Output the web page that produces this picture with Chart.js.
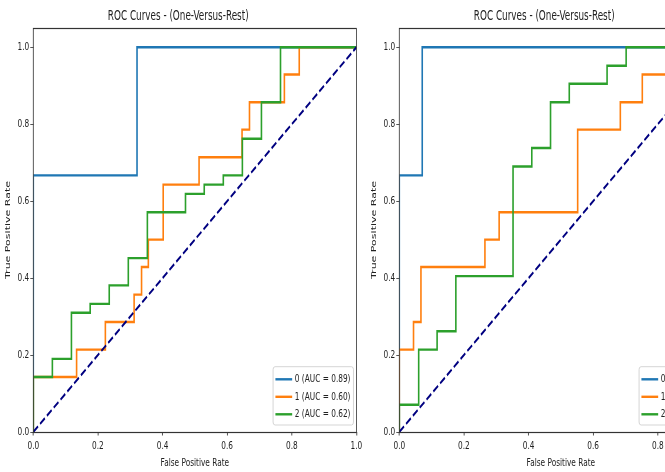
<!DOCTYPE html>
<html>
<head>
<meta charset="utf-8">
<title>ROC Curves - (One-Versus-Rest)</title>
<script src="https://cdn.jsdelivr.net/npm/chart.js@4.4.1/dist/chart.umd.min.js"></script>
<style>
  html, body { margin: 0; padding: 0; background: #fff; overflow: hidden; width: 665px; height: 472px; }
  #fig { position: absolute; left: 0; top: 0; width: 760px; height: 472px; }
  #fig canvas { position: absolute; top: 0; }
</style>
</head>
<body>
<div id="fig">
  <canvas id="rocA" width="548" height="472" style="left:0px"></canvas>
  <canvas id="rocB" width="548" height="472" style="left:366px"></canvas>
</div>
<script>
// tick values
const xTicks = [0, 0.2, 0.4, 0.6, 0.8, 1.0];
const yTicks = [0, 0.2, 0.4, 0.6, 0.8, 1.0];

// chance line
const diagFpr = [0, 1];
const diagTpr = [0, 1];

// left panel: corner points of each ROC curve
const fprA0 = [0, 0, 0.321, 0.321, 1];
const tprA0 = [0, 0.667, 0.667, 1, 1];
const fprA1 = [0, 0, 0.134, 0.134, 0.223, 0.223, 0.312, 0.312, 0.335, 0.335, 0.356, 0.356, 0.402, 0.402, 0.513, 0.513, 0.646, 0.646, 0.669, 0.669, 0.777, 0.777, 0.823, 0.823, 1];
const tprA1 = [0, 0.143, 0.143, 0.214, 0.214, 0.286, 0.286, 0.357, 0.357, 0.429, 0.429, 0.5, 0.5, 0.643, 0.643, 0.714, 0.714, 0.786, 0.786, 0.857, 0.857, 0.929, 0.929, 1, 1];
const fprA2 = [0, 0, 0.059, 0.059, 0.118, 0.118, 0.176, 0.176, 0.235, 0.235, 0.294, 0.294, 0.353, 0.353, 0.471, 0.471, 0.529, 0.529, 0.588, 0.588, 0.647, 0.647, 0.706, 0.706, 0.765, 0.765, 1];
const tprA2 = [0, 0.143, 0.143, 0.19, 0.19, 0.31, 0.31, 0.333, 0.333, 0.381, 0.381, 0.452, 0.452, 0.571, 0.571, 0.619, 0.619, 0.643, 0.643, 0.667, 0.667, 0.762, 0.762, 0.857, 0.857, 1, 1];
const labelsA = ['0 (AUC = 0.89)', '1 (AUC = 0.60)', '2 (AUC = 0.62)'];

// right panel (partly cut off)
const fprB0 = [0, 0, 0.071, 0.071, 1];
const tprB0 = [0, 0.667, 0.667, 1, 1];
const fprB1 = [0, 0, 0.044, 0.044, 0.067, 0.067, 0.265, 0.265, 0.309, 0.309, 0.552, 0.552, 0.684, 0.684, 0.752, 0.752, 0.89, 0.89, 1];
const tprB1 = [0, 0.214, 0.214, 0.286, 0.286, 0.429, 0.429, 0.5, 0.5, 0.571, 0.571, 0.786, 0.786, 0.857, 0.857, 0.929, 0.929, 1, 1];
const fprB2 = [0, 0, 0.06, 0.06, 0.117, 0.117, 0.175, 0.175, 0.352, 0.352, 0.41, 0.41, 0.468, 0.468, 0.526, 0.526, 0.643, 0.643, 0.702, 0.702, 1];
const tprB2 = [0, 0.071, 0.071, 0.214, 0.214, 0.262, 0.262, 0.405, 0.405, 0.69, 0.69, 0.738, 0.738, 0.857, 0.857, 0.905, 0.905, 0.952, 0.952, 1, 1];
const labelsB = ['0 (AUC = 0.98)', '1 (AUC = 0.66)', '2 (AUC = 0.70)'];

const classColors = ['#1f77b4', '#ff7f0e', '#2ca02c'];
const textColor = '#222';
const fontFamily = '"DejaVu Sans", sans-serif';
const squeezeX = 0.67;   // the source figure is squashed horizontally

Chart.defaults.font.family = fontFamily;
Chart.defaults.color = textColor;

// axes frame (all four spines)
const framePlugin = {
    id: 'frame',
    afterDatasetsDraw(chart) {
        const { ctx, chartArea: a } = chart;
        ctx.save();
        ctx.strokeStyle = '#333';
        ctx.lineWidth = 1.2;
        ctx.strokeRect(a.left, Math.round(a.top) + 0.5, a.right - a.left, Math.round(a.bottom) - Math.round(a.top));
        ctx.restore();
    }
};

// matplotlib style legend in the lower right of the axes
const legendPlugin = {
    id: 'lowerRightLegend',
    afterDatasetsDraw(chart) {
        const { ctx, chartArea: a } = chart;
        const items = chart.data.datasets.filter(d => d.label);
        ctx.save();
        ctx.font = '11px ' + fontFamily;
        const textW = Math.max(...items.map(d => ctx.measureText(d.label).width));
        const w = 3.5 + 25 + 4 + textW + 4.5;
        const h = 58.3;
        const right = a.right - 4.4, bottom = a.bottom - 7;
        const left = right - w, top = bottom - h;
        const r = 3;
        ctx.beginPath();
        ctx.moveTo(left + r, top);
        ctx.lineTo(right - r, top);
        ctx.quadraticCurveTo(right, top, right, top + r);
        ctx.lineTo(right, bottom - r);
        ctx.quadraticCurveTo(right, bottom, right - r, bottom);
        ctx.lineTo(left + r, bottom);
        ctx.quadraticCurveTo(left, bottom, left, bottom - r);
        ctx.lineTo(left, top + r);
        ctx.quadraticCurveTo(left, top, left + r, top);
        ctx.closePath();
        ctx.fillStyle = 'rgba(255,255,255,0.8)';
        ctx.fill();
        ctx.strokeStyle = '#cccccc';
        ctx.lineWidth = 1;
        ctx.stroke();
        items.forEach((d, i) => {
            const y = top + 12.6 + i * 17.5;
            ctx.strokeStyle = d.borderColor;
            ctx.lineWidth = 2.4;
            ctx.beginPath();
            ctx.moveTo(left + 3.5, y);
            ctx.lineTo(left + 28.5, y);
            ctx.stroke();
            ctx.fillStyle = textColor;
            ctx.textBaseline = 'middle';
            ctx.textAlign = 'left';
            ctx.fillText(d.label, left + 32.5, y);
        });
        ctx.restore();
    }
};

function makeRoc(canvasId, curves, labels) {
    let datasets = curves.map((c, i) => ({
        label: labels[i],
        data: c[0].map((x, k) => ({ x: x, y: c[1][k] })),
        borderColor: classColors[i],
        backgroundColor: classColors[i],
        borderWidth: 2.4,
        borderJoinStyle: 'miter',
        pointRadius: 0,
        showLine: true,
        fill: false,
        tension: 0,
        order: 3 - i
    }));
    datasets.push({
        label: '',
        data: diagFpr.map((x, k) => ({ x: x, y: diagTpr[k] })),
        borderColor: '#000080',
        borderWidth: 2.4,
        borderDash: [9, 4],
        pointRadius: 0,
        showLine: true,
        fill: false,
        order: 0
    });

    const chart = new Chart(document.getElementById(canvasId).getContext('2d'), {
        type: 'scatter',
        data: { datasets: datasets },
        options: {
            responsive: false,
            animation: false,
            events: [],
            layout: { padding: { left: 0, right: 16, top: 0, bottom: 0 } },
            plugins: {
                legend: { display: false },
                tooltip: { enabled: false },
                title: {
                    display: true,
                    text: 'ROC Curves - (One-Versus-Rest)',
                    color: textColor,
                    font: { size: 13.2, weight: 'normal' },
                    padding: { top: 8.8, bottom: 3.36 }
                }
            },
            scales: {
                x: {
                    type: 'linear',
                    min: 0,
                    max: 1,
                    afterBuildTicks: s => { s.ticks = xTicks.map(v => ({ value: v })); },
                    afterFit: s => { s.height = 40; },
                    ticks: {
                        callback: v => v.toFixed(1),
                        font: { size: 11 },
                        color: textColor,
                        padding: 4.5,
                        maxRotation: 0,
                        autoSkip: false
                    },
                    grid: { drawOnChartArea: false, tickLength: 3.5, color: '#333' },
                    border: { display: false },
                    title: {
                        display: true,
                        text: 'False Positive Rate',
                        font: { size: 11 },
                        color: textColor,
                        padding: { top: 0, bottom: 2.4 }
                    }
                },
                y: {
                    type: 'linear',
                    min: 0,
                    max: 1.05,
                    afterBuildTicks: s => { s.ticks = yTicks.map(v => ({ value: v })); },
                    afterFit: s => { s.width = 49.7; },
                    ticks: {
                        callback: v => v.toFixed(1),
                        font: { size: 11 },
                        color: textColor,
                        padding: 1.5,
                        autoSkip: false
                    },
                    grid: { drawOnChartArea: false, tickLength: 4.5, color: '#333' },
                    border: { display: false },
                    title: {
                        display: true,
                        text: 'True Positive Rate',
                        font: { size: 11 },
                        color: textColor,
                        padding: { top: 5.8, bottom: 0 }
                    }
                }
            }
        },
        plugins: [framePlugin, legendPlugin]
    });

    // shrink the backing canvas and redraw with a horizontal-only scale
    const canvas = chart.canvas;
    const w = Math.round(chart.width * squeezeX);
    canvas.width = w;
    canvas.style.width = w + 'px';
    chart.ctx.setTransform(squeezeX, 0, 0, 1, 0, 0);
    chart.draw();
    return chart;
}

makeRoc('rocA', [[fprA0, tprA0], [fprA1, tprA1], [fprA2, tprA2]], labelsA);
makeRoc('rocB', [[fprB0, tprB0], [fprB1, tprB1], [fprB2, tprB2]], labelsB);
</script>
</body>
</html>
